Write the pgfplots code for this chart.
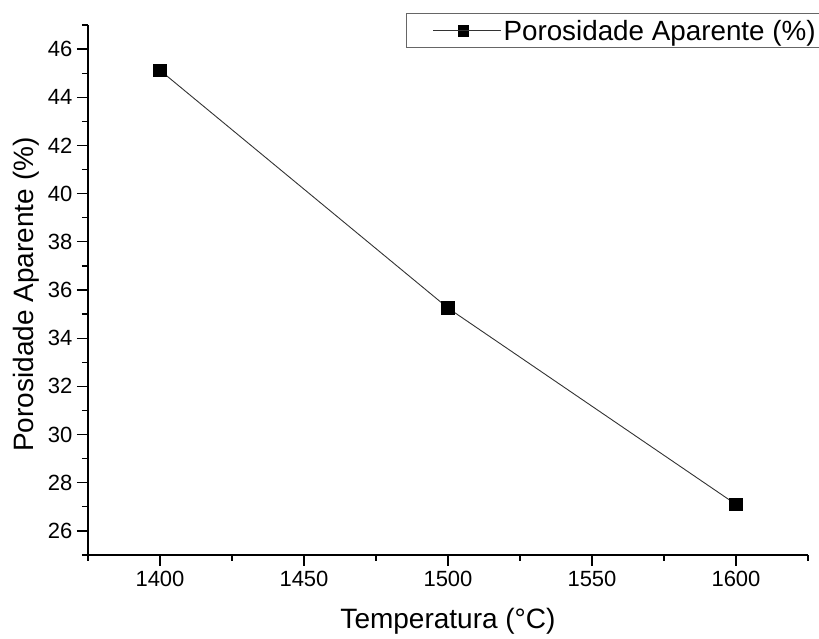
\documentclass[border=0pt]{standalone}
\usepackage{fontspec}
\setmainfont{Liberation Sans}
\usepackage{pgfplots}
\pgfplotsset{compat=1.18}
\begin{document}
\begin{tikzpicture}
\useasboundingbox (-88pt,-84pt) rectangle (731pt,555pt);
\begin{axis}[
  scale only axis, width=720pt, height=530pt,
  xmin=1375, xmax=1625, ymin=25, ymax=47,
  axis lines*=left,
  tick align=outside,
  xtick={1400,1450,...,1600}, ytick={26,28,...,46},
  minor xtick={1375,1425,...,1625}, minor ytick={25,27,...,47},
  major tick length=11pt, minor tick length=6pt,
  every tick/.style={line width=1.3pt, black},
  axis line style={line width=1.5pt},
  xticklabel={\fontsize{22}{26}\selectfont\pgfmathprintnumber[assume math mode=true,set thousands separator={}]{\tick}},
  yticklabel={\fontsize{22}{26}\selectfont\pgfmathprintnumber[assume math mode=true]{\tick}},
  xticklabel style={yshift=-2pt},
  yticklabel style={xshift=-1pt},
  xlabel={Temperatura (°C)},
  ylabel={Porosidade Aparente (\%)},
  xlabel style={font=\fontsize{28}{32}\selectfont, at={(axis description cs:0.5,-0.1245)}, anchor=center},
  ylabel style={font=\fontsize{28}{32}\selectfont, at={(axis description cs:-0.0861,0.4915)}, anchor=center},
  legend style={draw=black!60, line width=1.2pt, at={(axis description cs:0.4413,1.0226)}, anchor=north west,
    font=\fontsize{27.8}{32}\selectfont, inner xsep=26.3pt, inner ysep=4.3pt},
  legend image code/.code={
    \draw[black!80, line width=0.9pt] (0pt,0pt) -- (61pt,0pt);
    \fill[black] (25.2pt,-5.3pt) rectangle (35.8pt,5.3pt);
    \path (0pt,0pt) -- (68pt,0pt);},
]
\addplot[color=black!80, line width=0.9pt, mark=square*, mark size=6.3pt, mark options={black, solid}]
  coordinates {(1400,45.12) (1500,35.25) (1600,27.1)};
\addlegendentry{Porosidade Aparente (\%)}
\end{axis}
\end{tikzpicture}
\end{document}
